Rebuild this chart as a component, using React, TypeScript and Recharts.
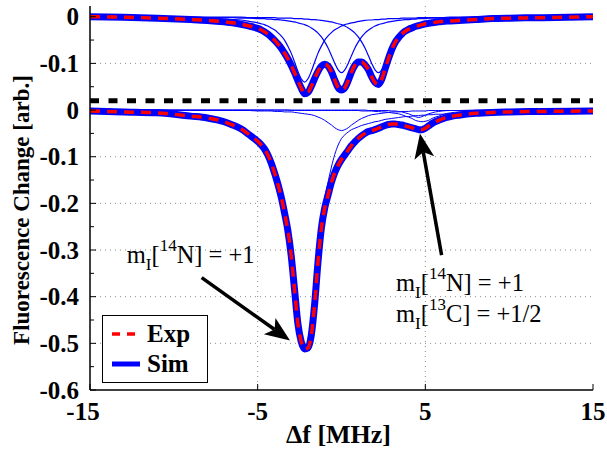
import React from 'react';
import {
  LineChart,
  Line,
  XAxis,
  YAxis,
  CartesianGrid,
  ReferenceLine,
  ReferenceDot,
  Legend,
} from 'recharts';

// detuning grid [MHz]
const freq = [
  -15, -13, -11, -9, -8, -7, -6.5, -6, -5.5,
  -5.0, -4.8, -4.6, -4.4, -4.2, -4.0, -3.8, -3.6, -3.4, -3.2,
  -3.0, -2.8, -2.6, -2.4, -2.2, -2.0, -1.8, -1.6, -1.4, -1.2,
  -1.0, -0.8, -0.6, -0.4, -0.2, 0, 0.2, 0.4, 0.6, 0.8,
  1.0, 1.2, 1.4, 1.6, 1.8, 2.0, 2.2, 2.4, 2.6, 2.8,
  3.0, 3.2, 3.4, 3.6, 3.8, 4.0, 4.2, 4.4, 4.6, 4.8,
  5.0, 5.2, 5.4, 5.6, 5.8, 6.0,
  6.5, 7, 8, 9, 10, 12, 15,
];

// upper trace (read against its own 0 / -0.1 labels)
const simTop = [
  0, -0.001, -0.003, -0.006, -0.008, -0.011, -0.013, -0.016, -0.02,
  -0.025, -0.028, -0.032, -0.037, -0.043, -0.05, -0.058, -0.067, -0.078, -0.09,
  -0.104, -0.12, -0.137, -0.153, -0.165, -0.162, -0.149, -0.132, -0.117, -0.106,
  -0.102, -0.106, -0.118, -0.136, -0.152, -0.157, -0.152, -0.137, -0.118, -0.104,
  -0.097, -0.097, -0.103, -0.113, -0.129, -0.141, -0.145, -0.134, -0.112, -0.09,
  -0.07, -0.055, -0.045, -0.037, -0.031, -0.027, -0.024, -0.021, -0.019, -0.017,
  -0.015, -0.014, -0.013, -0.012, -0.011, -0.01,
  -0.009, -0.008, -0.006, -0.004, -0.003, -0.002, 0,
];
const topPeak1 = [
  -0.001, -0.001, -0.001, -0.002, -0.003, -0.005, -0.006, -0.007, -0.01,
  -0.013, -0.015, -0.017, -0.02, -0.024, -0.028, -0.034, -0.041, -0.05, -0.063,
  -0.078, -0.097, -0.117, -0.133, -0.14, -0.133, -0.117, -0.097, -0.078, -0.063,
  -0.05, -0.041, -0.034, -0.028, -0.024, -0.02, -0.017, -0.015, -0.013, -0.012,
  -0.01, -0.009, -0.008, -0.007, -0.007, -0.006, -0.006, -0.005, -0.005, -0.004,
  -0.004, -0.004, -0.004, -0.003, -0.003, -0.003, -0.003, -0.003, -0.002, -0.002,
  -0.002, -0.002, -0.002, -0.002, -0.002, -0.002,
  -0.001, -0.001, -0.001, -0.001, -0.001, -0.001, 0,
];
const topPeak2 = [
  0, -0.001, -0.001, -0.001, -0.002, -0.002, -0.002, -0.003, -0.003,
  -0.004, -0.004, -0.004, -0.005, -0.005, -0.006, -0.006, -0.007, -0.008, -0.009,
  -0.01, -0.011, -0.013, -0.015, -0.017, -0.02, -0.024, -0.029, -0.035, -0.043,
  -0.054, -0.067, -0.083, -0.1, -0.114, -0.12, -0.114, -0.1, -0.083, -0.067,
  -0.054, -0.043, -0.035, -0.029, -0.024, -0.02, -0.017, -0.015, -0.013, -0.011,
  -0.01, -0.009, -0.008, -0.007, -0.006, -0.006, -0.005, -0.005, -0.004, -0.004,
  -0.004, -0.003, -0.003, -0.003, -0.003, -0.003,
  -0.002, -0.002, -0.002, -0.001, -0.001, -0.001, 0,
];
const topPeak3 = [
  0, 0, -0.001, -0.001, -0.001, -0.001, -0.001, -0.001, -0.002,
  -0.002, -0.002, -0.002, -0.002, -0.002, -0.002, -0.003, -0.003, -0.003, -0.003,
  -0.003, -0.004, -0.004, -0.004, -0.005, -0.005, -0.006, -0.006, -0.007, -0.008,
  -0.009, -0.01, -0.011, -0.013, -0.015, -0.017, -0.02, -0.024, -0.029, -0.035,
  -0.043, -0.054, -0.067, -0.083, -0.1, -0.114, -0.12, -0.114, -0.1, -0.083,
  -0.067, -0.054, -0.043, -0.035, -0.029, -0.024, -0.02, -0.017, -0.015, -0.013,
  -0.011, -0.01, -0.009, -0.008, -0.007, -0.006,
  -0.005, -0.004, -0.003, -0.002, -0.002, -0.001, -0.001,
];

// lower trace
const simBottom = [
  -0.002, -0.004, -0.006, -0.013, -0.017, -0.025, -0.032, -0.04, -0.053,
  -0.067, -0.074, -0.083, -0.096, -0.113, -0.134, -0.158, -0.186, -0.22, -0.258,
  -0.312, -0.385, -0.458, -0.497, -0.512, -0.51, -0.482, -0.415, -0.325, -0.253,
  -0.21, -0.182, -0.155, -0.134, -0.118, -0.106, -0.096, -0.086, -0.076, -0.068,
  -0.061, -0.055, -0.05, -0.046, -0.044, -0.042, -0.039, -0.036, -0.033, -0.031,
  -0.03, -0.03, -0.031, -0.032, -0.034, -0.036, -0.038, -0.04, -0.042, -0.042,
  -0.039, -0.034, -0.029, -0.025, -0.022, -0.019,
  -0.014, -0.011, -0.007, -0.005, -0.004, -0.003, -0.002,
];
const bottomMain = [
  -0.002, -0.004, -0.006, -0.012, -0.016, -0.024, -0.031, -0.039, -0.052,
  -0.065, -0.072, -0.081, -0.094, -0.111, -0.131, -0.155, -0.183, -0.216, -0.254,
  -0.307, -0.379, -0.451, -0.489, -0.503, -0.5, -0.471, -0.402, -0.309, -0.234,
  -0.187, -0.154, -0.122, -0.095, -0.075, -0.061, -0.053, -0.047, -0.042, -0.039,
  -0.036, -0.033, -0.031, -0.029, -0.027, -0.025, -0.024, -0.022, -0.02, -0.019,
  -0.018, -0.017, -0.016, -0.015, -0.014, -0.014, -0.013, -0.012, -0.012, -0.011,
  -0.011, -0.01, -0.01, -0.009, -0.009, -0.009,
  -0.008, -0.007, -0.005, -0.004, -0.003, -0.002, -0.002,
];
const bottomZero = [
  0, 0, 0, -0.001, -0.001, -0.001, -0.001, -0.001, -0.001,
  -0.002, -0.002, -0.002, -0.002, -0.002, -0.003, -0.003, -0.003, -0.004, -0.004,
  -0.004, -0.005, -0.006, -0.007, -0.008, -0.009, -0.01, -0.012, -0.015, -0.018,
  -0.022, -0.027, -0.032, -0.038, -0.042, -0.044, -0.042, -0.038, -0.032, -0.027,
  -0.022, -0.018, -0.015, -0.012, -0.01, -0.009, -0.008, -0.007, -0.006, -0.005,
  -0.004, -0.004, -0.004, -0.003, -0.003, -0.003, -0.002, -0.002, -0.002, -0.002,
  -0.002, -0.001, -0.001, -0.001, -0.001, -0.001,
  -0.001, -0.001, -0.001, 0, 0, 0, 0,
];
const bottomC13a = [
  0, 0, 0, 0, 0, 0, 0, 0, 0,
  0, 0, 0, 0, 0, 0, 0, 0, 0, 0,
  -0.001, -0.001, -0.001, -0.001, -0.001, -0.001, -0.001, -0.001, -0.001, -0.001,
  -0.001, -0.001, -0.001, -0.001, -0.001, -0.001, -0.001, -0.001, -0.001, -0.001,
  -0.001, -0.002, -0.002, -0.002, -0.002, -0.003, -0.003, -0.004, -0.004, -0.005,
  -0.006, -0.007, -0.008, -0.01, -0.013, -0.015, -0.018, -0.022, -0.024, -0.025,
  -0.024, -0.022, -0.018, -0.015, -0.013, -0.01,
  -0.006, -0.004, -0.002, -0.001, -0.001, -0.001, 0,
];
const bottomC13b = [
  0, 0, 0, 0, 0, 0, 0, 0, 0,
  0, 0, 0, 0, 0, 0, 0, 0, 0, 0,
  0, 0, 0, 0, 0, 0, 0, 0, 0, 0,
  0, 0, 0, 0, 0, 0, 0, 0, 0, 0,
  0, 0, 0, -0.001, -0.001, -0.001, -0.001, -0.001, -0.001, -0.001,
  -0.002, -0.002, -0.003, -0.004, -0.006, -0.008, -0.011, -0.014, -0.016, -0.014,
  -0.011, -0.008, -0.006, -0.004, -0.003, -0.002,
  -0.001, -0.001, 0, 0, 0, 0, 0,
];

const TOP_OFFSET = 0.2; // upper trace is shifted up on the shared axis
const SEPARATOR_Y = 0.02;

const xTicks = [-15, -5, 5, 15];
const yMajorTicks = [0.2, 0.1, 0, -0.1, -0.2, -0.3, -0.4, -0.5, -0.6];
const yTickLabels = ['0', '-0.1', '0', '-0.1', '-0.2', '-0.3', '-0.4', '-0.5', '-0.6'];
const yMinorTicks = [0.15, 0.05, -0.05, -0.15, -0.25, -0.35, -0.45, -0.55];
const gridY = [0.1, -0.1, -0.2, -0.3, -0.4, -0.5];
const gridX = [-5, 5];

const SERIF = "'Liberation Serif', 'Times New Roman', Times, serif";
const BLUE = '#0000ff';
const RED = '#ff0000';
const tickText = { fontFamily: SERIF, fontWeight: 700, fontSize: 25 } as const;
const boldText = { fontFamily: SERIF, fontWeight: 700, fontSize: 24 } as const;

const rows = freq.map((f, i) => ({
  f,
  simTop: simTop[i] + TOP_OFFSET,
  p1: topPeak1[i] + TOP_OFFSET,
  p2: topPeak2[i] + TOP_OFFSET,
  p3: topPeak3[i] + TOP_OFFSET,
  simBottom: simBottom[i],
  bMain: bottomMain[i],
  bZero: bottomZero[i],
  bC13a: bottomC13a[i],
  bC13b: bottomC13b[i],
}));

const allYTicks = [...yMajorTicks, ...yMinorTicks].sort((a, b) => b - a);
const majorIndex = (v: number) => yMajorTicks.findIndex((t) => Math.abs(t - v) < 1e-6);

const LeftTick = (props: any) => {
  const { x, y, payload } = props;
  const idx = majorIndex(payload.value);
  const ax = x + 11;
  return (
    <g>
      <line x1={ax} x2={ax + (idx >= 0 ? 6 : 4)} y1={y} y2={y} stroke="#000" />
      {idx >= 0 && (
        <text x={x} y={y} dy="0.35em" textAnchor="end" style={tickText} fill="#000">
          {yTickLabels[idx]}
        </text>
      )}
    </g>
  );
};

const RightTick = (props: any) => {
  const { x, y, payload } = props;
  const len = majorIndex(payload.value) >= 0 ? 6 : 4;
  return <line x1={x} x2={x - len} y1={y} y2={y} stroke="#000" />;
};

const BottomTick = (props: any) => {
  const { x, y, payload } = props;
  // the first label sits a little left of its mark, as in the original
  const shift = payload.value === xTicks[0] ? -7 : 0;
  return (
    <g>
      <line x1={x} x2={x} y1={y - 12} y2={y - 18} stroke="#000" />
      <text x={x + shift} y={y} dy="0.71em" textAnchor="middle" style={tickText} fill="#000">
        {payload.value}
      </text>
    </g>
  );
};

const TopTick = (props: any) => {
  const { x, y } = props;
  return <line x1={x} x2={x} y1={y} y2={y + 6} stroke="#000" />;
};

const Arrow = (p: any) => {
  const { x1, y1, x2, y2 } = p;
  const dx = x2 - x1;
  const dy = y2 - y1;
  const len = Math.hypot(dx, dy) || 1;
  const ux = dx / len;
  const uy = dy / len;
  const hl = 25;
  const hw = 10;
  const bx = x2 - ux * hl;
  const by = y2 - uy * hl;
  const nx = bx + ux * 6;
  const ny = by + uy * 6;
  return (
    <g>
      <line x1={x1} y1={y1} x2={nx} y2={ny} stroke="#000" strokeWidth={3.5} />
      <polygon
        points={`${x2},${y2} ${bx - uy * hw},${by + ux * hw} ${nx},${ny} ${bx + uy * hw},${by - ux * hw}`}
        fill="#000"
      />
    </g>
  );
};

const SpinLabel = ({ cx, cy, iso, el, val }: any) => (
  <text x={cx} y={cy} style={{ fontFamily: SERIF, fontSize: 24.5 }} fill="#000">
    m
    <tspan style={{ fontSize: 17 }} dy={7}>I</tspan>
    <tspan dy={-7}>[</tspan>
    <tspan style={{ fontSize: 17 }} dy={-12}>{iso}</tspan>
    <tspan dy={12}>{`${el}] = ${val}`}</tspan>
  </text>
);

const legendStyles: Record<string, { color: string; dash?: string; width: number }> = {
  Exp: { color: RED, dash: '8 7', width: 3.5 },
  Sim: { color: BLUE, width: 5 },
};

const LegendBox = (props: any) => {
  const items = (props.payload || []).map((p: any) => p.value);
  const names = items.length ? items : ['Exp', 'Sim'];
  return (
    <div
      style={{
        width: 106,
        height: 68,
        boxSizing: 'border-box',
        border: '1.5px solid #000',
        background: '#fff',
        paddingTop: 3,
      }}
    >
      {['Exp', 'Sim'].filter((n) => names.includes(n)).map((name) => {
        const s = legendStyles[name];
        return (
          <div key={name} style={{ display: 'flex', alignItems: 'center', height: 30 }}>
            <svg width={44} height={30} style={{ display: 'block' }}>
              <line x1={9} x2={37} y1={15} y2={15} stroke={s.color} strokeWidth={s.width} strokeDasharray={s.dash} />
            </svg>
            <span style={{ ...boldText, fontSize: 25, lineHeight: '30px' }}>{name}</span>
          </div>
        );
      })}
    </div>
  );
};

export default function App() {
  return (
    <div style={{ position: 'absolute', left: 0, top: 0, width: 607, height: 455, background: '#fff', fontFamily: SERIF }}>
      <LineChart
        width={607}
        height={455}
        data={rows}
        margin={{ top: 6, right: 14, bottom: 0, left: 0 }}
        style={{ fontFamily: SERIF }}
      >
        <CartesianGrid
          horizontal
          vertical
          horizontalValues={gridY}
          verticalValues={gridX}
          stroke="#8a8a8a"
          strokeDasharray="1 4"
        />
        <XAxis
          dataKey="f"
          type="number"
          domain={[-15, 15]}
          ticks={xTicks}
          interval={0}
          allowDataOverflow
          height={65}
          tickSize={0}
          tickMargin={12}
          tick={<BottomTick />}
          axisLine={{ stroke: '#000', strokeWidth: 1.5 }}
          label={{
            content: (p: any) => {
              const vb = p.viewBox || { x: 90, y: 390, width: 503 };
              return (
                <text x={vb.x + vb.width / 2 - 3} y={vb.y + 53} textAnchor="middle" style={{ ...boldText, fontSize: 26 }} fill="#000">
                  Δf [MHz]
                </text>
              );
            },
          }}
        />
        <XAxis
          xAxisId="top"
          orientation="top"
          dataKey="f"
          type="number"
          domain={[-15, 15]}
          ticks={xTicks}
          interval={0}
          allowDataOverflow
          height={0}
          tickSize={0}
          tick={<TopTick />}
          axisLine={{ stroke: '#000', strokeWidth: 1.5 }}
        />
        <YAxis
          type="number"
          domain={[-0.6, 0.223]}
          ticks={allYTicks}
          interval={0}
          allowDataOverflow
          width={90}
          tickSize={0}
          tickMargin={11}
          tick={<LeftTick />}
          axisLine={{ stroke: '#000', strokeWidth: 1.5 }}
          label={{
            content: (p: any) => {
              const vb = p.viewBox || { x: 0, y: 6, height: 384 };
              const cx = vb.x + 21;
              const cy = vb.y + vb.height / 2 + 12;
              return (
                <text
                  x={cx}
                  y={cy}
                  transform={`rotate(-90 ${cx} ${cy})`}
                  textAnchor="middle"
                  dominantBaseline="central"
                  style={{ ...boldText, fontSize: 23 }}
                  fill="#000"
                >
                  Fluorescence Change [arb.]
                </text>
              );
            },
          }}
        />
        <YAxis
          yAxisId="right"
          orientation="right"
          type="number"
          domain={[-0.6, 0.223]}
          ticks={allYTicks}
          interval={0}
          allowDataOverflow
          width={0}
          tickSize={0}
          tick={<RightTick />}
          axisLine={{ stroke: '#000', strokeWidth: 1.5 }}
        />

        <Line dataKey="p1" type="monotone" stroke={BLUE} strokeWidth={1.2} dot={false} activeDot={false} legendType="none" isAnimationActive={false} />
        <Line dataKey="p2" type="monotone" stroke={BLUE} strokeWidth={1.2} dot={false} activeDot={false} legendType="none" isAnimationActive={false} />
        <Line dataKey="p3" type="monotone" stroke={BLUE} strokeWidth={1.2} dot={false} activeDot={false} legendType="none" isAnimationActive={false} />
        <Line dataKey="bMain" type="monotone" stroke={BLUE} strokeWidth={1} dot={false} activeDot={false} legendType="none" isAnimationActive={false} />
        <Line dataKey="bZero" type="monotone" stroke={BLUE} strokeWidth={1} dot={false} activeDot={false} legendType="none" isAnimationActive={false} />
        <Line dataKey="bC13a" type="monotone" stroke={BLUE} strokeWidth={1} dot={false} activeDot={false} legendType="none" isAnimationActive={false} />
        <Line dataKey="bC13b" type="monotone" stroke={BLUE} strokeWidth={1} dot={false} activeDot={false} legendType="none" isAnimationActive={false} />

        <Line name="Sim" dataKey="simTop" type="monotone" stroke={BLUE} strokeWidth={7} dot={false} activeDot={false} isAnimationActive={false} />
        <Line name="Sim" dataKey="simBottom" type="monotone" stroke={BLUE} strokeWidth={7} dot={false} activeDot={false} legendType="none" isAnimationActive={false} />
        <Line name="Exp" dataKey="simTop" type="monotone" stroke={RED} strokeWidth={3.5} strokeDasharray="10 7" dot={false} activeDot={false} isAnimationActive={false} />
        <Line name="Exp" dataKey="simBottom" type="monotone" stroke={RED} strokeWidth={3.5} strokeDasharray="10 7" dot={false} activeDot={false} legendType="none" isAnimationActive={false} />

        <ReferenceLine y={SEPARATOR_Y} stroke="#000" strokeWidth={5} strokeDasharray="9 9.5" />

        <ReferenceLine segment={[{ x: -8.34, y: -0.359 }, { x: -3.07, y: -0.494 }]} shape={Arrow} />
        <ReferenceLine segment={[{ x: 5.97, y: -0.311 }, { x: 4.68, y: -0.05 }]} shape={Arrow} />

        <ReferenceDot x={-12.81} y={-0.3285} r={0} shape={(p: any) => <SpinLabel cx={p.cx} cy={p.cy} iso="14" el="N" val="+1" />} />
        <ReferenceDot x={3.25} y={-0.388} r={0} shape={(p: any) => <SpinLabel cx={p.cx} cy={p.cy} iso="14" el="N" val="+1" />} />
        <ReferenceDot x={3.25} y={-0.455} r={0} shape={(p: any) => <SpinLabel cx={p.cx} cy={p.cy} iso="13" el="C" val="+1/2" />} />

        <Legend
          layout="vertical"
          align="center"
          verticalAlign="middle"
          content={<LegendBox />}
          wrapperStyle={{ left: 102, top: 315, width: 106, height: 68 }}
        />
      </LineChart>
    </div>
  );
}
